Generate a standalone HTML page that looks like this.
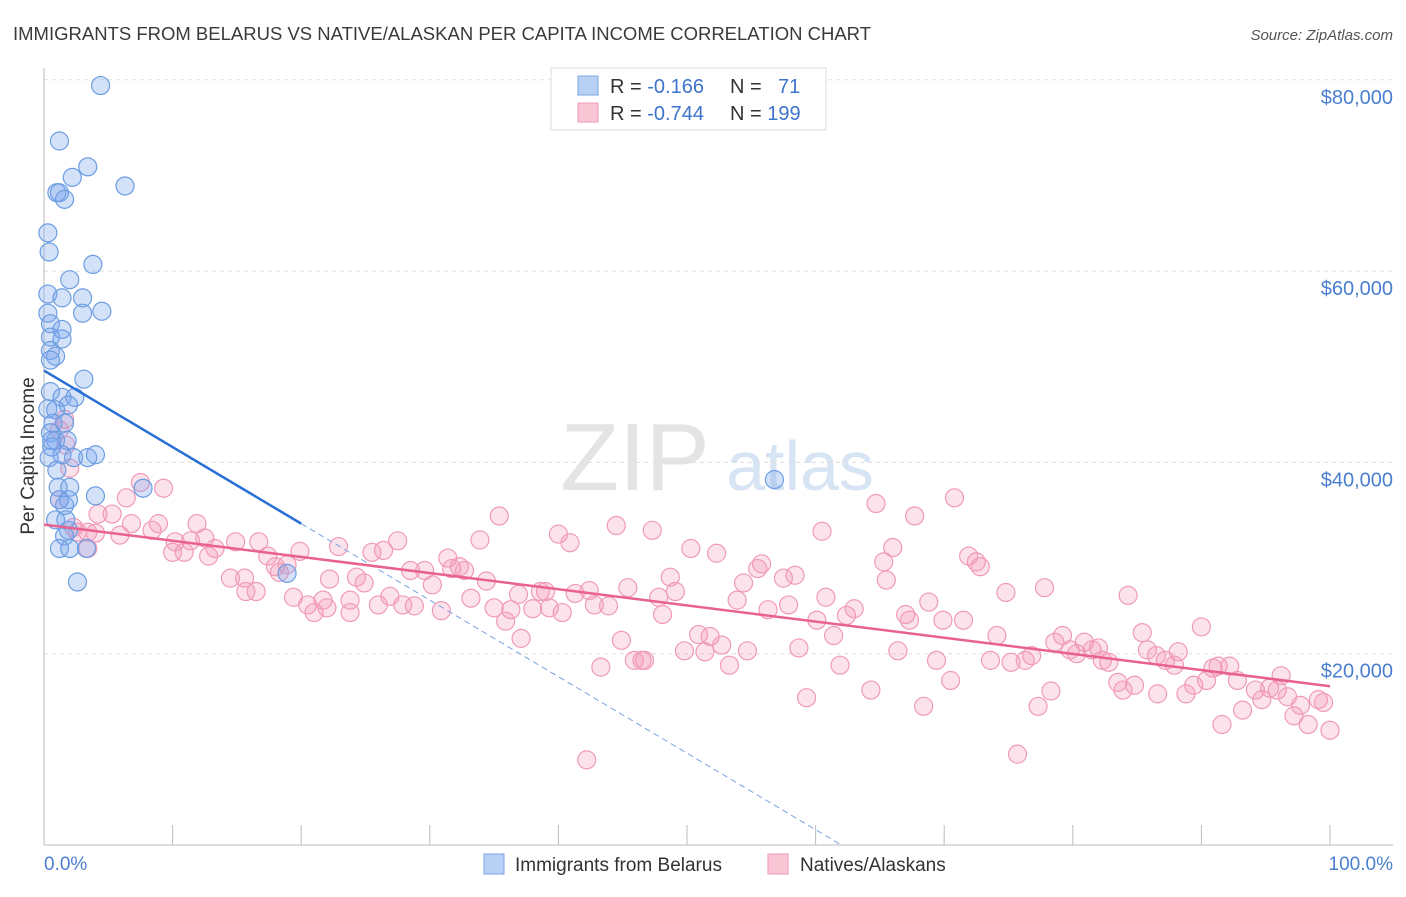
<!DOCTYPE html>
<html><head><meta charset="utf-8"><style>
body{margin:0;background:#fff;font-family:"Liberation Sans",sans-serif}
svg text{font-family:"Liberation Sans",sans-serif}
</style></head><body>
<svg id="chart" width="1406" height="892" viewBox="0 0 1406 892" xmlns="http://www.w3.org/2000/svg">
<text x="13" y="40" font-size="18.5" fill="#3a3a3a">IMMIGRANTS FROM BELARUS VS NATIVE/ALASKAN PER CAPITA INCOME CORRELATION CHART</text>
<text x="1393" y="40" font-size="15" font-style="italic" fill="#555" text-anchor="end">Source: ZipAtlas.com</text>
<g><text x="635" y="490" font-size="96" font-family="Liberation Serif" fill="#e4e4e4" text-anchor="middle">ZIP</text><text x="800" y="490" font-size="70" fill="#d6e4f3" text-anchor="middle">atlas</text></g>
<g id="grid"></g><g id="axes"></g><g id="pts"></g><g id="trend"></g>
<text transform="translate(34,456) rotate(-90)" font-size="19" fill="#333" text-anchor="middle">Per Capita Income</text>
<text x="44" y="870" font-size="19" fill="#4a7fd0">0.0%</text>
<text x="1393" y="870" font-size="19" fill="#4a7fd0" text-anchor="end">100.0%</text>
<g>
<rect x="551" y="68" width="275" height="62" fill="#fff" stroke="#ddd"/>
<rect x="578" y="76" width="20" height="19" fill="#b8d0f3" stroke="#7aa6e6"/>
<rect x="578" y="103" width="20" height="19" fill="#f9c6d6" stroke="#ee9ab6"/>
<text x="610" y="93" font-size="20" fill="#333">R = <tspan fill="#3d74cc">-0.166</tspan></text>
<text x="730" y="93" font-size="20" fill="#333">N = <tspan fill="#3d74cc" x="778">71</tspan></text>
<text x="610" y="120" font-size="20" fill="#333">R = <tspan fill="#3d74cc">-0.744</tspan></text>
<text x="730" y="120" font-size="20" fill="#333">N = <tspan fill="#3d74cc">199</tspan></text>
</g>
<g>
<rect x="484" y="854" width="20" height="20" fill="#b8d0f3" stroke="#7aa6e6"/>
<text x="515" y="871" font-size="19" fill="#333">Immigrants from Belarus</text>
<rect x="768" y="854" width="20" height="20" fill="#f9c6d6" stroke="#ee9ab6"/>
<text x="800" y="871" font-size="19" fill="#333">Natives/Alaskans</text>
</g>
</svg>
<script>
const yTicks=[20000,40000,60000,80000];
const yTickLabels=["$20,000","$40,000","$60,000","$80,000"];
const xTicks=[0,10,20,30,40,50,60,70,80,90,100];
const blueX=[4.4,1.2,3.4,2.2,6.3,1.0,1.2,1.6,0.3,0.4,3.8,2.0,0.3,1.4,3.0,0.3,3.0,4.5,0.5,1.4,0.5,1.4,0.5,0.9,0.5,3.1,0.5,1.4,2.4,1.9,0.3,0.9,0.7,1.6,0.5,0.9,1.8,0.6,1.4,2.3,3.4,4.0,0.4,1.1,2.0,4.0,7.7,1.2,1.9,1.6,1.9,1.6,1.2,2.0,3.3,2.6,18.9,56.8,0.6,1.0,0.9,1.7];
const blueY=[79.4,73.6,70.9,69.8,68.9,68.2,68.2,67.5,64.0,62.0,60.7,59.1,57.6,57.2,57.2,55.6,55.6,55.8,54.5,53.9,53.1,52.9,51.7,51.1,50.7,48.7,47.4,46.8,46.8,46.0,45.6,45.5,44.1,44.1,43.1,42.3,42.3,41.6,40.8,40.5,40.5,40.8,40.5,37.4,37.4,36.5,37.3,36.1,36.1,35.5,32.9,32.3,31.0,31.0,31.0,27.5,28.4,38.2,42.3,39.2,34.0,34.0];
const pinkX=[7.5,9.3,6.4,4.2,5.3,6.8,8.9,11.9,2.3,3.4,5.9,8.4,10.0,10.9,10.2,11.4,12.5,13.3,14.9,16.7,12.8,14.5,15.6,15.7,16.5,17.4,18.0,19.9,18.3,18.9,19.4,20.5,21.0,21.7,22.0,22.9,22.2,24.3,24.9,23.8,23.8,25.5,26.4,27.5,26.0,26.9,27.9,28.8,28.5,29.6,30.2,30.9,31.4,31.7,32.3,32.7,33.2,33.9,34.4,35.0,35.4,35.9,36.3,36.9,37.1,38.0,38.6,39.0,39.3,40.0,40.3,40.9,41.3,42.2,42.4,42.8,43.3,43.9,44.5,44.9,45.4,45.9,46.5,46.7,47.3,47.8,48.1,48.7,49.1,49.8,50.3,50.9,51.4,51.8,52.3,52.7,53.3,53.9,54.4,54.7,55.5,55.8,56.3,57.5,57.9,58.4,58.7,59.3,60.1,60.5,60.8,61.4,61.9,62.4,63.0,64.3,64.7,65.3,65.5,66.0,66.4,67.0,67.3,67.7,68.4,68.8,69.4,69.9,70.5,70.8,71.5,71.9,72.5,72.8,73.6,74.1,74.8,75.2,75.7,76.3,76.8,77.3,77.8,78.3,78.6,79.2,79.8,80.3,80.9,81.5,82.0,82.3,82.8,83.5,83.9,84.3,84.8,85.4,85.8,86.5,86.6,87.2,87.9,88.2,88.8,89.4,90.0,90.4,90.9,91.3,91.6,92.2,92.8,93.2,94.2,94.7,95.3,95.9,96.2,96.7,97.2,97.7,98.3,99.1,99.5,100,1.6,1.7,1.2,1.2,2.6,4.0,3.4,2.0];
const pinkY=[37.9,37.3,36.3,34.6,34.6,33.6,33.6,33.6,33.2,32.7,32.4,32.9,30.6,30.6,31.7,31.8,32.1,31.0,31.7,31.7,30.2,27.9,27.9,26.5,26.5,30.2,29.1,30.7,28.5,29.3,25.9,25.1,24.3,25.6,24.8,31.2,27.8,28.0,27.4,25.6,24.3,30.6,30.8,31.8,25.1,26.0,25.1,25.0,28.7,28.7,27.2,24.5,30.0,28.9,29.1,28.7,25.8,31.9,27.6,24.8,34.4,23.4,24.6,26.2,21.6,24.7,26.5,26.5,24.8,32.5,24.3,31.6,26.3,8.9,26.6,25.1,18.6,25.0,33.4,21.4,26.9,19.3,19.3,19.3,32.9,25.9,24.1,28.0,26.5,20.3,31.0,22.0,20.2,21.8,30.5,20.9,18.8,25.6,27.4,20.3,28.9,29.4,24.6,27.9,25.1,28.2,20.6,15.4,23.5,32.8,25.9,21.9,18.8,24.0,24.7,16.2,35.7,29.6,27.7,31.1,20.3,24.1,23.5,34.4,14.5,25.4,19.3,23.5,17.2,36.3,23.5,30.2,29.6,29.1,19.3,21.9,26.4,19.1,9.5,19.3,19.8,14.5,26.9,16.1,21.2,21.9,20.4,20.0,21.2,20.4,20.6,19.3,19.1,17.0,16.2,26.1,16.7,22.2,20.4,19.8,15.8,19.3,18.8,20.2,15.8,16.7,22.8,17.2,18.5,18.7,12.6,18.7,17.2,14.1,16.2,15.2,16.4,16.2,17.7,15.5,13.5,14.6,12.6,15.2,14.9,12.0,44.5,41.8,43.4,36.1,32.7,32.6,31.0,39.4];
const blueTrendX=[0,20,62];
const blueTrendY=[49600,33600,0];
const pinkTrendX=[0,100];
const pinkTrendY=[33500,16600];
const NS="http://www.w3.org/2000/svg";
const xs=v=>44+v*12.86;
const ys=v=>845-v/20000*191.3;
function mk(t,a,p){const e=document.createElementNS(NS,t);for(const k in a)e.setAttribute(k,a[k]);document.getElementById(p).appendChild(e);return e;}
yTicks.forEach((t,i)=>{
 const l=mk('line',{x1:44,x2:1393,y1:ys(t),y2:ys(t),stroke:'#ddd','stroke-dasharray':'4,4'},'grid');
 
 
 const tx=mk('text',{x:1393,y:ys(t)+24,'font-size':20,fill:'#4a7fd0','text-anchor':'end'},'grid');
 tx.textContent=yTickLabels[i];
 
 
});
const ax=mk('line',{x1:44,x2:44,y1:68,y2:845,stroke:'#bbb'},'axes');


const bx=mk('line',{x1:44,x2:1393,y1:845,y2:845,stroke:'#bbb'},'axes');


xTicks.forEach(t=>{
 const l=mk('line',{x1:xs(t),x2:xs(t),y1:825,y2:845,stroke:'#bbb'},'axes');
 
 
});
pinkX.forEach((x,i)=>{
 const c=mk('circle',{cx:xs(x),cy:ys(pinkY[i]*1000),r:9,fill:'rgba(244,150,182,0.28)',stroke:'#f09ab8','stroke-width':1.2},'pts');
 
 
});
blueX.forEach((x,i)=>{
 const c=mk('circle',{cx:xs(x),cy:ys(blueY[i]*1000),r:9,fill:'rgba(120,165,235,0.32)',stroke:'#6c9de2','stroke-width':1.2},'pts');
 
 
});
const b1=mk('line',{x1:xs(blueTrendX[0]),y1:ys(blueTrendY[0]),x2:xs(blueTrendX[1]),y2:ys(blueTrendY[1]),stroke:'#2a6fd6','stroke-width':2.5},'trend');


const b2=mk('line',{x1:xs(blueTrendX[1]),y1:ys(blueTrendY[1]),x2:xs(blueTrendX[2]),y2:ys(blueTrendY[2]),stroke:'#7aa3e0','stroke-width':1,'stroke-dasharray':'6,4'},'trend');


const p1=mk('line',{x1:xs(pinkTrendX[0]),y1:ys(pinkTrendY[0]),x2:xs(pinkTrendX[1]),y2:ys(pinkTrendY[1]),stroke:'#e8618f','stroke-width':2.5},'trend');


</script>
</body></html>
